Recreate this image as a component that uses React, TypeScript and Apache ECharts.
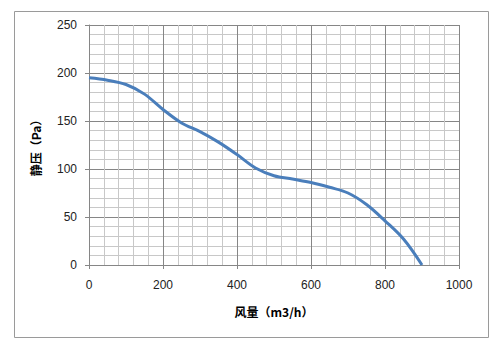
import React, { useEffect, useRef } from "react";
import * as echarts from "echarts";

const flowValues = [0, 50, 100, 150, 200, 250, 300, 350, 400, 450, 500, 550, 600, 650, 700, 750, 800, 850, 900];
const pressureValues = [195, 192.5, 188, 178, 162, 148, 139, 128, 115, 101, 93, 89.5, 86, 81, 75, 63, 46, 27, 0];
const xAxisTitle = "风量（m3/h）";
const yAxisTitle = "静压（Pa）";

export default function App() {
  const ref = useRef<HTMLDivElement>(null);
  useEffect(() => {
    if (!ref.current) return;
    const chart = echarts.init(ref.current, null, { renderer: "svg" });
    const labelStyle = { color: "#222", fontFamily: "Liberation Sans, Arial, sans-serif", fontSize: 12 };
    const nameStyle = { color: "#000", fontFamily: "Noto Sans CJK SC", fontWeight: "bold" as const, fontSize: 12 };
    chart.setOption({
      animation: false,
      backgroundColor: "#fff",
      graphic: [
        {
          type: "rect",
          shape: { x: 14.5, y: 11.5, width: 474, height: 326 },
          style: { fill: "none", stroke: "#9a9a9a", lineWidth: 1 },
          silent: true,
        },
      ],
      grid: { left: 89, top: 25, right: 41, bottom: 85, containLabel: false },
      xAxis: {
        type: "value",
        min: 0,
        max: 1000,
        interval: 200,
        name: xAxisTitle,
        nameLocation: "middle",
        nameGap: 40,
        nameTextStyle: nameStyle,
        axisLine: { show: true, lineStyle: { color: "#868686", width: 1 } },
        axisTick: { show: true, length: 4, lineStyle: { color: "#868686" } },
        axisLabel: { ...labelStyle, margin: 14, formatter: (v: number) => String(v) },
        splitLine: { show: true, lineStyle: { color: "#868686", width: 1 } },
        minorTick: { show: false, splitNumber: 5 },
        minorSplitLine: { show: true, lineStyle: { color: "#c8c8c8", width: 1 } },
      },
      yAxis: {
        type: "value",
        min: 0,
        max: 250,
        interval: 50,
        name: yAxisTitle,
        nameLocation: "middle",
        nameGap: 48,
        nameRotate: 90,
        nameTextStyle: nameStyle,
        axisLine: { show: true, lineStyle: { color: "#868686", width: 1 } },
        axisTick: { show: true, length: 4, lineStyle: { color: "#868686" } },
        axisLabel: { ...labelStyle, margin: 12, formatter: (v: number) => String(v) },
        splitLine: { show: true, lineStyle: { color: "#868686", width: 1 } },
        minorTick: { show: false, splitNumber: 5 },
        minorSplitLine: { show: true, lineStyle: { color: "#c8c8c8", width: 1 } },
      },
      series: [
        {
          type: "line",
          data: flowValues.map((x, i) => [x, pressureValues[i]]),
          smooth: 0.35,
          showSymbol: false,
          lineStyle: { color: "#4A7EBB", width: 3 },
        },
      ],
    });
    return () => chart.dispose();
  }, []);
  return <div ref={ref} style={{ position: "fixed", left: 0, top: 0, width: 500, height: 350 }} />;
}
